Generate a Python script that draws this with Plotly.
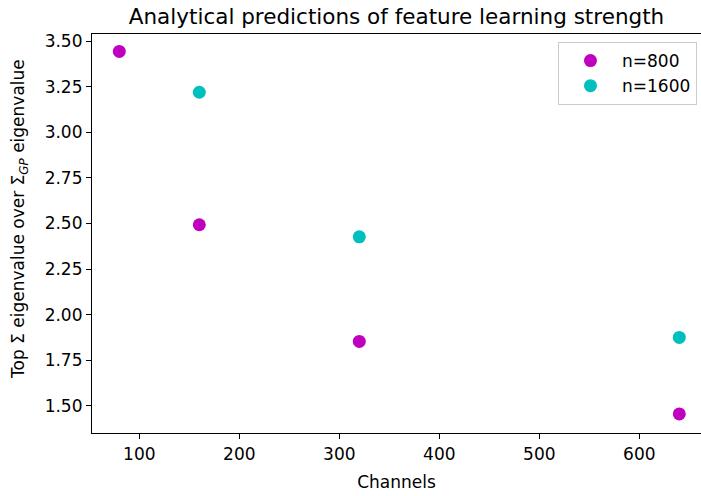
import plotly.graph_objects as go

# Feature-learning strength ratios for two training-set sizes
channels_800 = [80, 160, 320, 640]
ratio_800 = [3.444, 2.493, 1.853, 1.455]

channels_1600 = [160, 320, 640]
ratio_1600 = [3.22, 2.427, 1.875]

x_ticks = [100, 200, 300, 400, 500, 600]
y_ticks = [1.50, 1.75, 2.00, 2.25, 2.50, 2.75, 3.00, 3.25, 3.50]

FONT = "DejaVu Sans"
LABEL_SIZE = 17

fig = go.Figure()
fig.add_trace(go.Scatter(
    x=channels_800, y=ratio_800, mode="markers", name="n=800",
    marker=dict(color="#bf00bf", size=13, line=dict(width=0)),
))
fig.add_trace(go.Scatter(
    x=channels_1600, y=ratio_1600, mode="markers", name="n=1600",
    marker=dict(color="#00bfbf", size=13, line=dict(width=0)),
))

axis_common = dict(
    showgrid=False, zeroline=False, showline=True, linecolor="black",
    linewidth=1.2, mirror=True, ticks="outside", ticklen=5, tickwidth=1.2,
    tickcolor="black", tickfont=dict(family=FONT, size=LABEL_SIZE, color="black"),
)

fig.update_layout(
    width=701, height=496,
    margin=dict(l=92, r=0, t=34, b=63),
    paper_bgcolor="white", plot_bgcolor="white",
    font=dict(family=FONT, color="black"),
    title=dict(
        text="Analytical predictions of feature learning strength",
        x=0.5, xref="paper", xanchor="center",
        y=1 - 16 / 496, yref="container", yanchor="middle",
        font=dict(family=FONT, size=21.5, color="black"),
    ),
    xaxis=dict(
        range=[52.7, 661.7], tickvals=x_ticks,
        title=dict(text="Channels", font=dict(family=FONT, size=LABEL_SIZE), standoff=13),
        **axis_common,
    ),
    yaxis=dict(
        range=[1.3505, 3.5395], tickvals=y_ticks, tickformat=".2f",
        **axis_common,
    ),
    legend=dict(
        x=0.9934, xanchor="right", y=0.98, yanchor="top",
        bordercolor="#cccccc", borderwidth=1, bgcolor="white",
        font=dict(family=FONT, size=LABEL_SIZE, color="black"),
        itemwidth=53, tracegroupgap=2,
    ),
)

# Vertical axis label placed beside the tick labels
fig.add_annotation(
    text="Top Σ eigenvalue over Σ<sub><i>GP</i></sub> eigenvalue",
    textangle=-90, xref="paper", yref="paper",
    x=(19 - 92) / 609, y=(433 - 219) / 399,
    xanchor="center", yanchor="middle", showarrow=False,
    font=dict(family=FONT, size=LABEL_SIZE, color="black"),
)

fig.write_html("out.html")
